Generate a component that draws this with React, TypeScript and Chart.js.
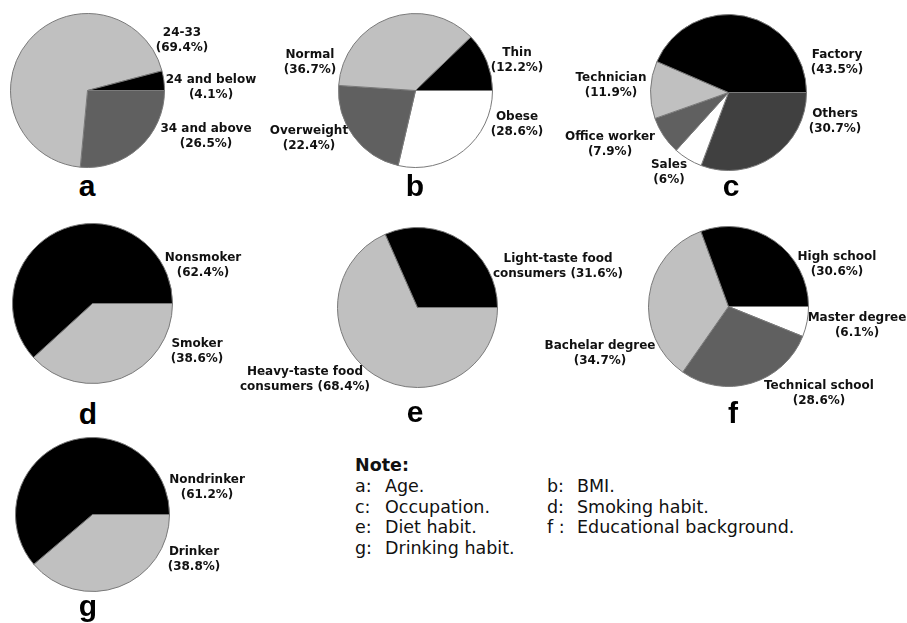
import React, { useEffect, useRef } from "react";
import { Chart, registerables } from "chart.js";

Chart.register(...registerables);

// ---------- DATA (slices listed clockwise from 3 o'clock) ----------
const ageCategories = ["34 and above", "24-33", "24 and below"];
const ageValues = [26.5, 69.4, 4.1];

const bmiCategories = ["Obese", "Overweight", "Normal", "Thin"];
const bmiValues = [28.6, 22.4, 36.7, 12.2];

const jobCategories = ["Others", "Sales", "Office worker", "Technician", "Factory"];
const jobValues = [30.7, 6, 7.9, 11.9, 43.5];

const smokeCategories = ["Smoker", "Nonsmoker"];
const smokeValues = [38.6, 62.4];

const dietCategories = ["Heavy-taste food\nconsumers", "Light-taste food\nconsumers"];
const dietValues = [68.4, 31.6];

const eduCategories = ["Master degree", "Technical school", "Bachelar degree", "High school"];
const eduValues = [6.1, 28.6, 34.7, 30.6];

const drinkCategories = ["Drinker", "Nondrinker"];
const drinkValues = [38.8, 61.2];

const panelLetters = ["a", "b", "c", "d", "e", "f", "g"];
const noteKeys = ["a:", "b:", "c:", "d:", "e:", "f :", "g:"];
const noteTexts = ["Age.", "BMI.", "Occupation.", "Smoking habit.", "Diet habit.", "Educational background.", "Drinking habit."];

// ---------- STYLE / LAYOUT ----------
const BLACK = "#000000";
const LIGHT = "#c0c0c0";
const MID = "#606060";
const DARK = "#404040";
const WHITE = "#ffffff";

type PieSpec = {
  cats: string[];
  vals: number[];
  colors: string[];
  cx: number;
  cy: number;
  r: number;
  labelPos: [number, number][];
  letterPos: [number, number];
};

const pies: PieSpec[] = [
  { cats: ageCategories, vals: ageValues, colors: [MID, LIGHT, BLACK], cx: 87, cy: 90, r: 77,
    labelPos: [[206, 128], [182, 32], [211, 79]], letterPos: [87, 197] },
  { cats: bmiCategories, vals: bmiValues, colors: [WHITE, MID, LIGHT, BLACK], cx: 415, cy: 90, r: 77,
    labelPos: [[517, 116], [309, 130], [310, 54], [517, 52]], letterPos: [415, 197] },
  { cats: jobCategories, vals: jobValues, colors: [DARK, WHITE, MID, LIGHT, BLACK], cx: 728, cy: 92, r: 78,
    labelPos: [[835, 113], [669, 164], [610, 136], [611, 77], [837, 54]], letterPos: [731, 197] },
  { cats: smokeCategories, vals: smokeValues, colors: [LIGHT, BLACK], cx: 92, cy: 303, r: 80,
    labelPos: [[197, 343], [203, 257]], letterPos: [88, 425] },
  { cats: dietCategories, vals: dietValues, colors: [LIGHT, BLACK], cx: 417, cy: 307, r: 80,
    labelPos: [[305, 371], [558, 258]], letterPos: [415, 423] },
  { cats: eduCategories, vals: eduValues, colors: [WHITE, MID, LIGHT, BLACK], cx: 728, cy: 306, r: 80,
    labelPos: [[857, 317], [819, 385], [600, 345], [837, 256]], letterPos: [733, 424] },
  { cats: drinkCategories, vals: drinkValues, colors: [LIGHT, BLACK], cx: 92, cy: 514, r: 77,
    labelPos: [[194, 551], [207, 479]], letterPos: [88, 617] },
];

const LABEL_FONT = "bold 12px 'DejaVu Sans', Verdana, sans-serif";
const LABEL_LH = 15;

function labelLines(cat: string, v: number): string[] {
  const lines = cat.split("\n");
  const pct = `(${v}%)`;
  if (lines.length > 1) {
    lines[lines.length - 1] = lines[lines.length - 1] + " " + pct;
    return lines;
  }
  return [lines[0], pct];
}

function Pie({ spec }: { spec: PieSpec }) {
  const ref = useRef<HTMLCanvasElement | null>(null);
  const size = spec.r * 2 + 1;
  useEffect(() => {
    if (!ref.current) return;
    const chart = new Chart(ref.current, {
      type: "pie",
      data: {
        labels: spec.cats.map((c) => c.replace("\n", " ")),
        datasets: [
          {
            data: spec.vals,
            backgroundColor: spec.colors,
            borderColor: "#7a7a7a",
            borderWidth: 1,
            hoverOffset: 0,
          },
        ],
      },
      options: {
        responsive: false,
        animation: false,
        devicePixelRatio: 1,
        rotation: 90,
        layout: { padding: 0 },
        plugins: { legend: { display: false }, tooltip: { enabled: false } },
        events: [],
      },
    });
    return () => chart.destroy();
  }, [spec]);
  return (
    <canvas
      ref={ref}
      width={size}
      height={size}
      style={{
        position: "absolute",
        left: spec.cx - size / 2,
        top: spec.cy - size / 2,
        width: size,
        height: size,
      }}
    />
  );
}

function SliceLabel({ x, y, lines }: { x: number; y: number; lines: string[] }) {
  return (
    <div
      style={{
        position: "absolute",
        left: x - 100,
        top: y - LABEL_LH / 2,
        width: 200,
        textAlign: "center",
        font: LABEL_FONT,
        lineHeight: LABEL_LH + "px",
        color: "#111",
        whiteSpace: "pre",
      }}
    >
      {lines.join("\n")}
    </div>
  );
}

export default function App() {
  const noteFont = "17.5px 'DejaVu Sans', Verdana, sans-serif";
  const noteRows = [0, 1, 2, 3];
  const rowY = [486, 507, 527, 548];
  return (
    <div
      style={{
        position: "absolute",
        left: 0,
        top: 0,
        width: 907,
        height: 623,
        background: "#ffffff",
        overflow: "hidden",
      }}
    >
      {pies.map((p, i) => (
        <Pie key={"pie" + i} spec={p} />
      ))}
      {pies.map((p, i) =>
        p.cats.map((c, j) => (
          <SliceLabel
            key={"lab" + i + "-" + j}
            x={p.labelPos[j][0]}
            y={p.labelPos[j][1]}
            lines={labelLines(c, p.vals[j])}
          />
        ))
      )}
      {pies.map((p, i) => (
        <div
          key={"let" + i}
          style={{
            position: "absolute",
            left: p.letterPos[0] - 30,
            top: p.letterPos[1] - 28,
            width: 60,
            height: 34,
            lineHeight: "34px",
            textAlign: "center",
            font: "bold 30px 'Liberation Sans', Arial, sans-serif",
            color: "#000",
          }}
        >
          {panelLetters[i]}
        </div>
      ))}
      <div
        style={{
          position: "absolute",
          left: 355,
          top: 465 - 11,
          font: "bold 17.5px 'DejaVu Sans', Verdana, sans-serif",
          lineHeight: "22px",
          color: "#111",
        }}
      >
        Note:
      </div>
      {noteRows.map((r) =>
        [0, 1].map((col) => {
          const idx = r * 2 + col;
          if (idx >= noteKeys.length) return null;
          const x0 = col === 0 ? 355 : 547;
          return (
            <React.Fragment key={"note" + idx}>
              <div
                style={{
                  position: "absolute",
                  left: x0,
                  top: rowY[r] - 11,
                  font: noteFont,
                  lineHeight: "22px",
                  color: "#111",
                  whiteSpace: "pre",
                }}
              >
                {noteKeys[idx]}
              </div>
              <div
                style={{
                  position: "absolute",
                  left: x0 + 30,
                  top: rowY[r] - 11,
                  font: noteFont,
                  lineHeight: "22px",
                  color: "#111",
                  whiteSpace: "pre",
                }}
              >
                {noteTexts[idx]}
              </div>
            </React.Fragment>
          );
        })
      )}
    </div>
  );
}
